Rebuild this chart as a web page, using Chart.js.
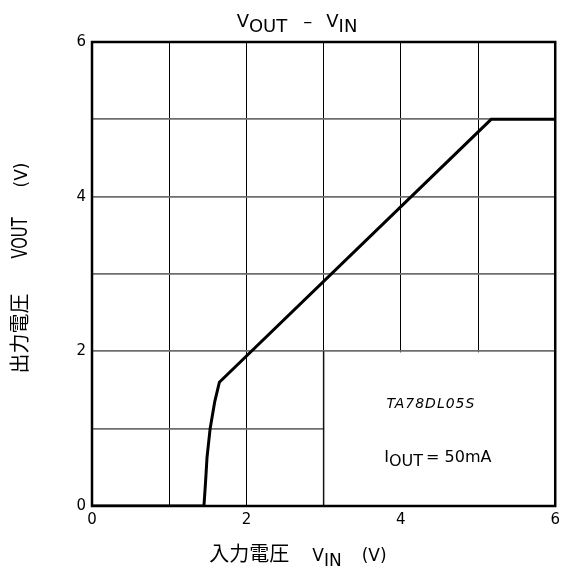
<!DOCTYPE html>
<html>
<head>
<meta charset="utf-8">
<script src="https://cdn.jsdelivr.net/npm/chart.js@4/dist/chart.umd.min.js"></script>
<style>
html, body { margin: 0; padding: 0; background: #fff; }
#wrap { width: 565px; height: 574px; }
</style>
</head>
<body>
<div id="wrap"><canvas id="c"></canvas></div>
<script>
// VOUT - VIN courbe TA78DL05S
var vin  = [0, 1.45, 1.47, 1.49, 1.53, 1.59, 1.65, 5.17, 6];
var vout = [0, 0, 0.3, 0.63, 1.0, 1.35, 1.6, 5.0, 5.0];
var xTicks = [0, 2, 4, 6];
var yTicks = [0, 2, 4, 6];

var police = '"DejaVu Sans", Verdana, sans-serif';
var policeJP = '"Noto Sans CJK JP", sans-serif';

// texte avec indice (V + OUT plus bas), sx = etirement horizontal
function texteIndice(ctx, morceaux, x, y) {
  let total = 0;
  morceaux.forEach(m => { ctx.font = m.font; total += ctx.measureText(m.t).width * (m.sx || 1) + (m.gap || 0); });
  let cx = x - total / 2;
  ctx.textAlign = 'left';
  ctx.textBaseline = 'alphabetic';
  morceaux.forEach(m => {
    ctx.font = m.font;
    const sx = m.sx || 1;
    ctx.save();
    ctx.translate(cx, y + (m.dy || 0));
    ctx.scale(sx, 1);
    ctx.fillText(m.t, 0, 0);
    ctx.restore();
    cx += ctx.measureText(m.t).width * sx + (m.gap || 0);
  });
}

var pluginCadre = {
  id: 'cadre',
  beforeDatasetsDraw(chart) {
    const ctx = chart.ctx, xs = chart.scales.x, ys = chart.scales.y;
    const x3 = xs.getPixelForValue(3), x6 = xs.getPixelForValue(6);
    const y0 = ys.getPixelForValue(0), y2 = ys.getPixelForValue(2);
    ctx.save();
    ctx.fillStyle = '#fff';
    ctx.fillRect(x3 + 0.5, y2 + 1, x6 - x3, y0 - y2);
    ctx.strokeStyle = '#111';
    ctx.lineWidth = 1.5;
    ctx.beginPath();
    ctx.moveTo(x3, y2); ctx.lineTo(x3, y0);
    ctx.stroke();
    ctx.restore();
  },
  afterDraw(chart) {
    const ctx = chart.ctx, a = chart.chartArea;
    const xs = chart.scales.x, ys = chart.scales.y;
    ctx.save();
    ctx.strokeStyle = '#000';
    ctx.lineWidth = 2.5;
    ctx.strokeRect(a.left, a.top, a.right - a.left, a.bottom - a.top);

    ctx.fillStyle = '#000';
    // titre
    const f18 = '18px ' + police;
    texteIndice(ctx, [
      {t: 'V', font: f18},
      {t: 'OUT', font: f18, dy: 5, gap: 16},
      {t: '–', font: f18, gap: 14},
      {t: 'V', font: f18},
      {t: 'IN', font: f18, dy: 5}
    ], 297, 27);

    // titre axe x
    const f17 = '17px ' + police;
    texteIndice(ctx, [
      {t: '入力電圧', font: '20px ' + policeJP, gap: 23},
      {t: 'V', font: f17},
      {t: 'IN', font: f17, dy: 5, gap: 20},
      {t: '(V)', font: f17}
    ], 298, 561);

    // titre axe y
    ctx.save();
    ctx.translate(27, 268);
    ctx.rotate(-Math.PI / 2);
    texteIndice(ctx, [
      {t: '出力電圧', font: '20px ' + policeJP, gap: 35},
      {t: 'VOUT', font: '21px ' + police, sx: 0.7, gap: 30},
      {t: '(V)', font: f17}
    ], 0, 0);
    ctx.restore();

    // annotations
    ctx.font = 'italic 14px ' + police;
    ctx.letterSpacing = '1px';
    ctx.textAlign = 'center';
    ctx.textBaseline = 'middle';
    ctx.fillText('TA78DL05S', xs.getPixelForValue(4.39), ys.getPixelForValue(1.31));
    ctx.letterSpacing = '0px';
    const f16 = '16px ' + police;
    texteIndice(ctx, [
      {t: 'I', font: f16},
      {t: 'OUT', font: f16, dy: 4, gap: 3},
      {t: '= 50mA', font: f16}
    ], xs.getPixelForValue(4.48), ys.getPixelForValue(0.57));
    ctx.restore();
  }
};

new Chart(document.getElementById('c'), {
  type: 'scatter',
  data: {
    datasets: [{
      data: vin.map((v, i) => ({x: v, y: vout[i]})),
      showLine: true,
      borderColor: '#000',
      borderWidth: 3,
      pointRadius: 0,
      tension: 0
    }]
  },
  options: {
    responsive: true,
    maintainAspectRatio: false,
    animation: false,
    layout: { padding: { top: 42, right: 9, left: 0, bottom: 0 } },
    plugins: { legend: { display: false }, tooltip: { enabled: false } },
    scales: {
      x: {
        type: 'linear', min: 0, max: 6,
        afterFit(s) { s.height = 68; },
        grid: { color: '#000', lineWidth: 1, drawTicks: false },
        border: { display: false },
        ticks: {
          stepSize: 1, padding: 5, color: '#000',
          font: { size: 15, family: police },
          callback: v => xTicks.includes(v) ? v : ''
        }
      },
      y: {
        type: 'linear', min: 0, max: 6,
        afterFit(s) { s.width = 92; },
        grid: { color: '#6e6e6e', lineWidth: 1.7, drawTicks: false },
        border: { display: false },
        ticks: {
          stepSize: 1, padding: 6, color: '#000',
          font: { size: 15, family: police },
          callback: v => yTicks.includes(v) ? v : ''
        }
      }
    }
  },
  plugins: [pluginCadre]
});
</script>
</body>
</html>
